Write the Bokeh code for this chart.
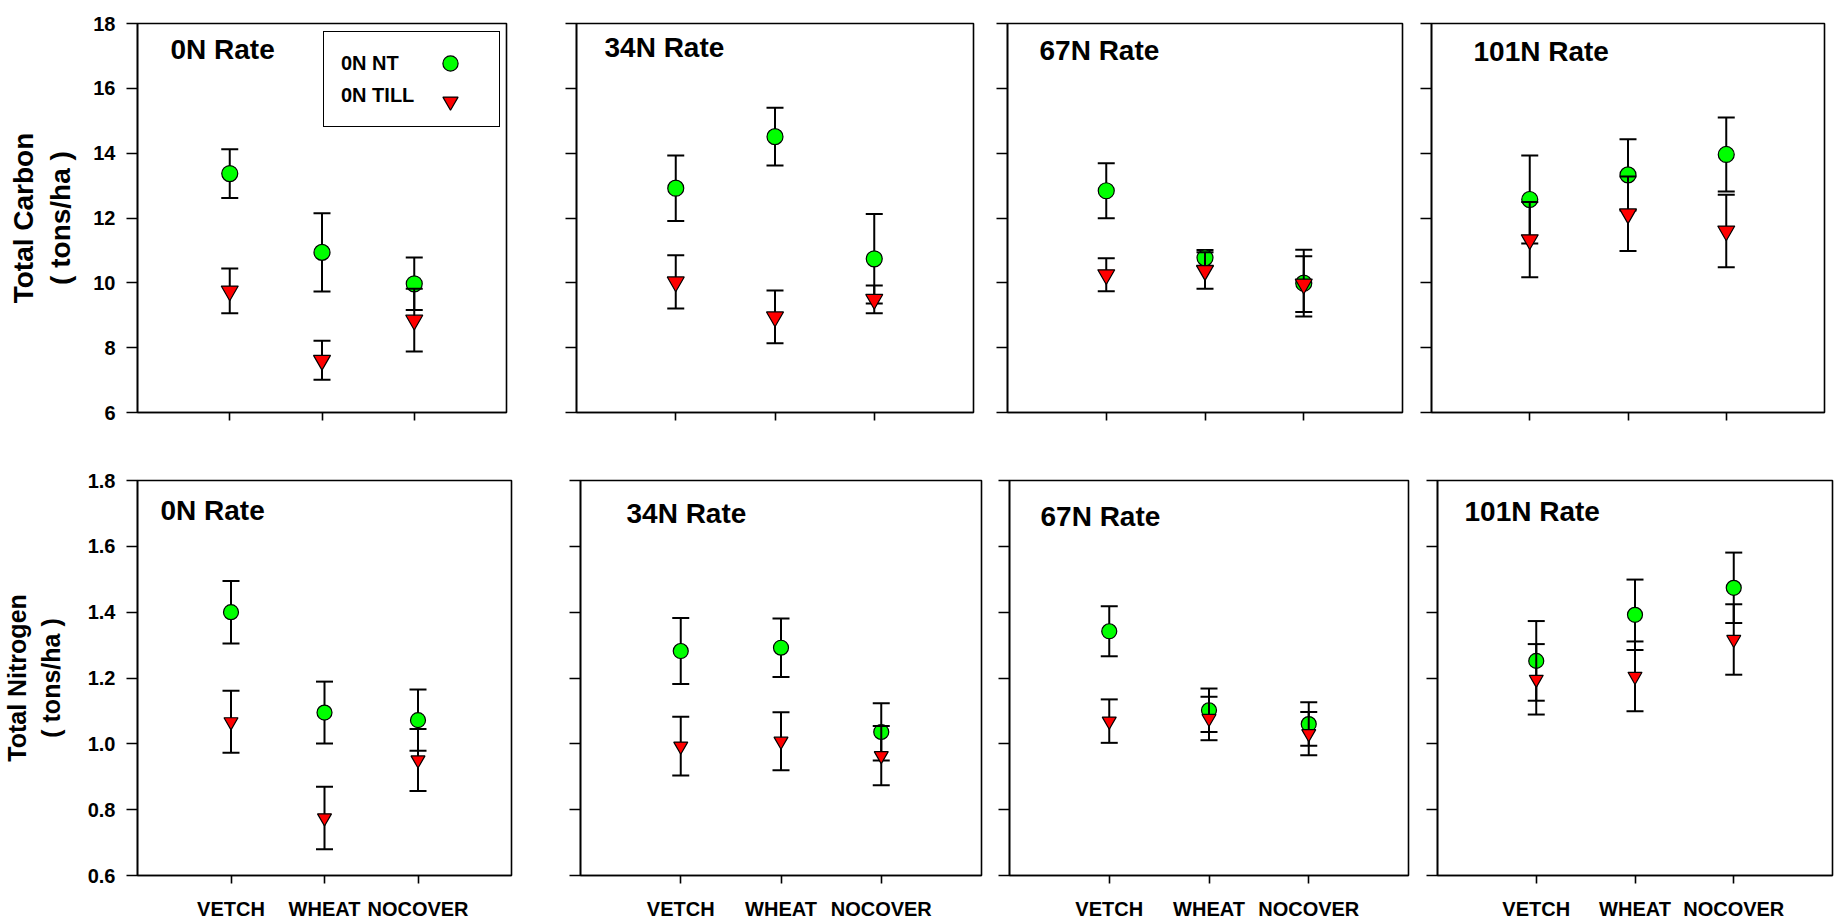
from bokeh.plotting import figure
from bokeh.layouts import column, row
from bokeh.models import Range1d, FixedTicker, Label, Legend, LegendItem, PrintfTickFormatter
from bokeh.embed import file_html
from bokeh.resources import INLINE

# ---------------- data ----------------
categories = ["VETCH", "WHEAT", "NOCOVER"]
rate_titles = ["0N Rate", "34N Rate", "67N Rate", "101N Rate"]
series_names = ["0N NT", "0N TILL"]

# Total carbon (tons/ha), one list per N rate, values per cover crop
carbon_nt = [[13.37, 10.94, 9.97], [12.92, 14.51, 10.74], [12.84, 10.77, 9.99], [12.57, 13.33, 13.96]]
carbon_nt_err = [[0.75, 1.21, 0.81], [1.01, 0.89, 1.38], [0.85, 0.24, 1.03], [1.36, 1.10, 1.14]]
carbon_till = [[9.75, 7.61, 8.85], [10.03, 8.95, 9.49], [10.25, 10.38, 9.96], [11.33, 12.13, 11.60]]
carbon_till_err = [[0.69, 0.60, 0.97], [0.82, 0.81, 0.43], [0.51, 0.56, 0.86], [1.16, 1.15, 1.12]]

# Total nitrogen (tons/ha)
nitrogen_nt = [[1.400, 1.095, 1.072], [1.282, 1.292, 1.036], [1.342, 1.102, 1.060], [1.252, 1.392, 1.474]]
nitrogen_nt_err = [[0.095, 0.094, 0.093], [0.100, 0.089, 0.087], [0.076, 0.066, 0.066], [0.121, 0.107, 0.107]]
nitrogen_till = [[1.067, 0.775, 0.951], [0.993, 1.008, 0.964], [1.069, 1.077, 1.031], [1.196, 1.205, 1.317]]
nitrogen_till_err = [[0.094, 0.095, 0.094], [0.089, 0.088, 0.090], [0.066, 0.066, 0.066], [0.107, 0.106, 0.107]]

carbon_ticks = [6, 8, 10, 12, 14, 16, 18]
nitrogen_ticks = [0.6, 0.8, 1.0, 1.2, 1.4, 1.6, 1.8]
y_titles = ["Total Carbon\n( tons/ha )", "Total Nitrogen\n( tons/ha )"]

# ---------------- layout / style ----------------
FONT = "Liberation Sans"
ROW_H = [446, 478]
# per panel: fig width, borders (left, right, top, bottom), title offset (x, cap-top)
SPECS = [
    [dict(w=540, l=137, r=34, t=16, b=34, tx=33, ty=22),
     dict(w=450, l=36, r=17, t=18, b=32, tx=28, ty=20),
     dict(w=425, l=17, r=13, t=21, b=30, tx=32, ty=22),
     dict(w=420, l=16, r=11, t=23, b=31, tx=42, ty=20)],
    [dict(w=545, l=135, r=34, t=31, b=45, tx=23, ty=26),
     dict(w=450, l=35, r=14, t=32, b=46, tx=46, ty=27),
     dict(w=425, l=14, r=12, t=33, b=46, tx=31, ty=29),
     dict(w=415, l=17, r=3, t=34, b=49, tx=27, ty=20)],
]

xs = [i + 1 for i in range(len(categories))]
LW = 2.0
CAP = 17


def make_panel(ri, ci):
    s = SPECS[ri][ci]
    H = ROW_H[ri]
    if ri == 0:
        yr, ticks = (carbon_ticks[0], carbon_ticks[-1]), carbon_ticks
        nt, nte, tl, tle = carbon_nt[ci], carbon_nt_err[ci], carbon_till[ci], carbon_till_err[ci]
        csize, tsize = 16, 17
    else:
        yr, ticks = (nitrogen_ticks[0], nitrogen_ticks[-1]), nitrogen_ticks
        nt, nte, tl, tle = nitrogen_nt[ci], nitrogen_nt_err[ci], nitrogen_till[ci], nitrogen_till_err[ci]
        csize, tsize = 15, 14

    p = figure(width=s["w"], height=H, x_range=Range1d(0, 4), y_range=Range1d(*yr),
               output_backend="svg", toolbar_location=None, title=None,
               min_border_left=s["l"], min_border_right=s["r"],
               min_border_top=s["t"], min_border_bottom=s["b"],
               background_fill_color="white", border_fill_color="white")
    p.xgrid.visible = False
    p.ygrid.visible = False
    p.outline_line_color = "black"
    p.outline_line_width = 1.6
    p.outline_line_alpha = 1.0

    # y axis
    ya = p.yaxis[0]
    ya.ticker = FixedTicker(ticks=ticks)
    ya.major_tick_out = 11
    ya.major_tick_in = 0
    ya.minor_tick_out = 0
    ya.minor_tick_in = 0
    ya.axis_line_width = 1.6
    ya.major_tick_line_width = 1.6
    if ci == 0:
        ya.formatter = PrintfTickFormatter(format="%d" if ri == 0 else "%.1f")
        ya.major_label_text_font = FONT
        ya.major_label_text_font_style = "bold"
        ya.major_label_text_font_size = "20px"
        ya.major_label_text_color = "black"
        ya.major_label_standoff = 11
        ya.axis_label = y_titles[ri]
        ya.axis_label_text_font = FONT
        ya.axis_label_text_font_style = "bold"
        ya.axis_label_text_font_size = "28px" if ri == 0 else "25px"
        ya.axis_label_text_color = "black"
        ya.axis_label_standoff = 14 if ri == 0 else 20
        ya.axis_label_text_line_height = 1.2
    else:
        ya.major_label_overrides = {t: "" for t in ticks}
        ya.major_label_text_font_size = "1px"
        ya.major_label_standoff = 0

    # x axis
    xa = p.xaxis[0]
    xa.ticker = FixedTicker(ticks=xs)
    xa.major_tick_out = 8
    xa.major_tick_in = 0
    xa.minor_tick_out = 0
    xa.minor_tick_in = 0
    xa.axis_line_width = 1.6
    xa.major_tick_line_width = 1.6
    if ri == 1:
        xa.major_label_overrides = {x: c for x, c in zip(xs, categories)}
        xa.major_label_text_font = FONT
        xa.major_label_text_font_style = "bold"
        xa.major_label_text_font_size = "20px"
        xa.major_label_text_color = "black"
        xa.major_label_standoff = 14
    else:
        xa.major_label_overrides = {x: "" for x in xs}
        xa.major_label_text_font_size = "1px"
        xa.major_label_standoff = 0

    # NT series: error bars then markers
    lo = [v - e for v, e in zip(nt, nte)]
    hi = [v + e for v, e in zip(nt, nte)]
    p.segment(x0=xs, y0=lo, x1=xs, y1=hi, line_color="black", line_width=LW)
    p.scatter(xs, hi, marker="dash", size=CAP, line_color="black", line_width=LW)
    p.scatter(xs, lo, marker="dash", size=CAP, line_color="black", line_width=LW)
    r_nt = p.scatter(xs, nt, marker="circle", size=csize, fill_color="#00FF00",
                     line_color="black", line_width=1.2)

    # TILL series
    lo = [v - e for v, e in zip(tl, tle)]
    hi = [v + e for v, e in zip(tl, tle)]
    p.segment(x0=xs, y0=lo, x1=xs, y1=hi, line_color="black", line_width=LW)
    p.scatter(xs, hi, marker="dash", size=CAP, line_color="black", line_width=LW)
    p.scatter(xs, lo, marker="dash", size=CAP, line_color="black", line_width=LW)
    r_tl = p.scatter(xs, tl, marker="inverted_triangle", size=tsize, fill_color="#FF0000",
                     line_color="black", line_width=1.2)

    # panel title inside the frame
    frame_h = H - s["t"] - s["b"]
    p.add_layout(Label(x=s["tx"], y=frame_h - s["ty"] + 5, x_units="screen", y_units="screen",
                       text=rate_titles[ci], text_baseline="top", text_align="left",
                       text_font=FONT, text_font_style="bold", text_font_size="28px",
                       text_color="black"))

    if ri == 0 and ci == 0:
        # legend box with the labels (label first, symbol after, as in the original)
        ghost_nt = p.scatter(x=[], y=[], marker="circle", size=1, fill_alpha=0, line_alpha=0)
        ghost_tl = p.scatter(x=[], y=[], marker="circle", size=1, fill_alpha=0, line_alpha=0)
        legend_text = Legend(items=[LegendItem(label=series_names[0], renderers=[ghost_nt]),
                                    LegendItem(label=series_names[1], renderers=[ghost_tl])],
                             location=(186, frame_h - 17 - 94), margin=0, padding=15, spacing=0,
                             glyph_width=2, glyph_height=20, label_standoff=0,
                             label_height=32, label_width=143,
                             label_text_font=FONT, label_text_font_style="bold",
                             label_text_font_size="20px", label_text_color="black",
                             border_line_color="black", border_line_width=1.6,
                             border_line_alpha=1.0,
                             background_fill_color="white", background_fill_alpha=1.0)
        p.add_layout(legend_text)
        legend_sym = Legend(items=[LegendItem(label=" ", renderers=[r_nt]),
                                   LegendItem(label=" ", renderers=[r_tl])],
                            location=(294, frame_h - 28 - 76), margin=0, padding=0, spacing=0,
                            glyph_width=38, glyph_height=38, label_standoff=0, label_width=0,
                            label_text_font_size="1px",
                            border_line_alpha=0, background_fill_alpha=0)
        p.add_layout(legend_sym)
    return p


rows = []
for ri in range(2):
    rows.append(row([make_panel(ri, ci) for ci in range(4)], spacing=0))
layout = column(rows, spacing=0)

open("out.html", "w").write(file_html(layout, INLINE))
